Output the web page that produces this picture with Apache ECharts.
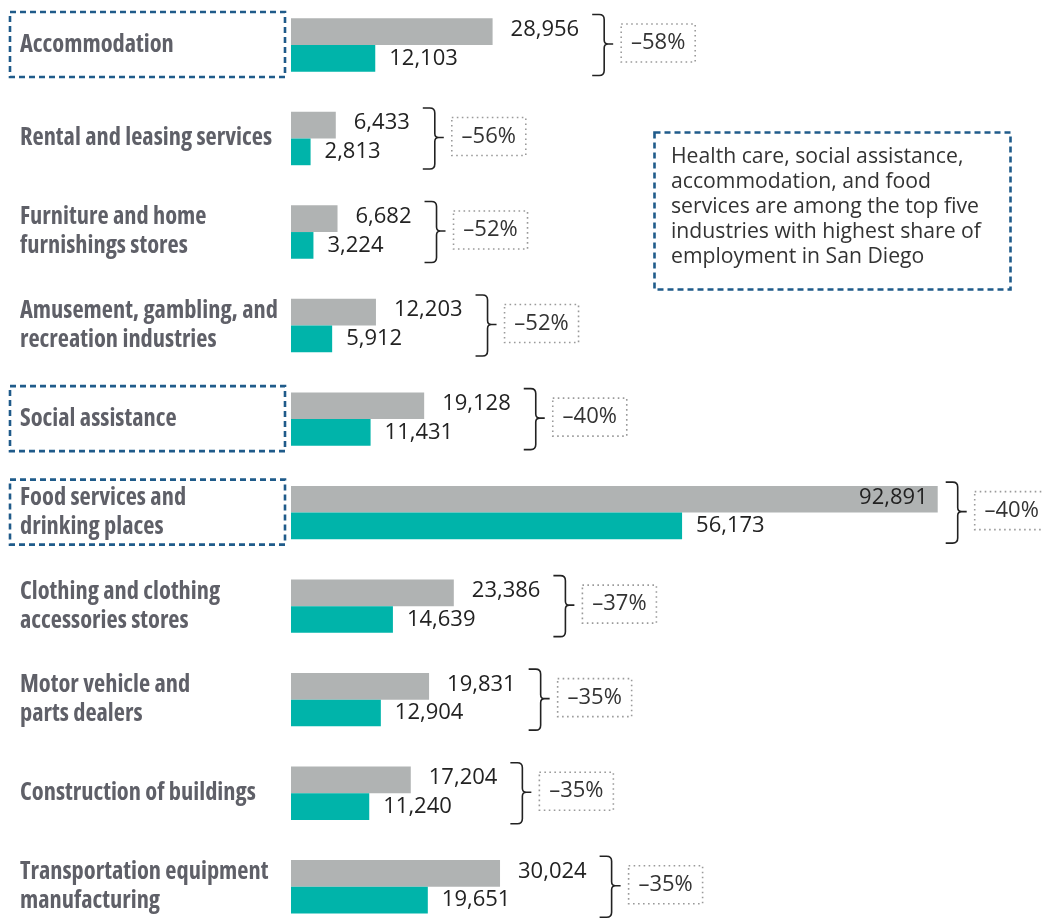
<!DOCTYPE html>
<html><head><meta charset="utf-8">
<script src="https://cdn.jsdelivr.net/npm/echarts@6/dist/echarts.min.js"></script>
<style>html,body{margin:0;padding:0;background:#fff}#c{width:1044px;height:920px}</style>
</head><body><div id="c"></div>
<script>
const categories = ['Accommodation','Rental and leasing services','Furniture and home\nfurnishings stores','Amusement, gambling, and\nrecreation industries','Social assistance','Food services and\ndrinking places','Clothing and clothing\naccessories stores','Motor vehicle and\nparts dealers','Construction of buildings','Transportation equipment\nmanufacturing'];
const before = [28956, 6433, 6682, 12203, 19128, 92891, 23386, 19831, 17204, 30024];
const after = [12103, 2813, 3224, 5912, 11431, 56173, 14639, 12904, 11240, 19651];
const pctChange = [-58, -56, -52, -52, -40, -40, -37, -35, -35, -35];
const highlighted = ['Accommodation', 'Social assistance', 'Food services and\ndrinking places'];
const noteText = 'Health care, social assistance,\naccommodation, and food\nservices are among the top five\nindustries with highest share of\nemployment in San Diego';

const GRAY = '#b0b3b3', TEAL = '#00b4aa', NAVY = '#1f5b8a';
const VALUE_FONT_SIZE = 22, VALUE_FAMILY = '"Open Sans"';
const VALUE_FONT = VALUE_FONT_SIZE + 'px ' + VALUE_FAMILY;
const fmt = v => v.toLocaleString('en-US');
const mctx = document.createElement('canvas').getContext('2d');
function textW(t, font) { mctx.font = font; return mctx.measureText(t).width; }
const maxBefore = Math.max(...before);

const chart = echarts.init(document.getElementById('c'), null, {renderer: 'canvas'});

const valueLabel = {
  show: true, fontFamily: 'Open Sans', fontSize: VALUE_FONT_SIZE, color: '#222',
  formatter: p => fmt(p.value)
};

chart.setOption({
  animation: false,
  backgroundColor: '#fff',
  grid: {left: 291, top: 45, width: 696.2, height: 841.7, containLabel: false},
  xAxis: {type: 'value', min: 0, max: 100000, show: false},
  yAxis: {
    type: 'category', data: categories, inverse: true, boundaryGap: false,
    axisLine: {show: false}, axisTick: {show: false}, splitLine: {show: false},
    axisLabel: {
      align: 'left', margin: 271, color: '#5f6068',
      fontFamily: 'Open Sans', fontWeight: 'bold condensed', fontSize: 24.4, lineHeight: 29
    }
  },
  series: [
    {
      type: 'bar', name: 'Before', barWidth: 26.7, barGap: '0%', clip: false, itemStyle: {color: GRAY},
      label: Object.assign({}, valueLabel, {position: 'right', distance: 18, offset: [0, -2]}),
      data: before.map(v => v === maxBefore
        ? {value: v, label: {position: 'insideRight', distance: 10}}
        : v)
    },
    {
      type: 'bar', name: 'After', barWidth: 26.7, barGap: '0%', clip: false, itemStyle: {color: TEAL},
      label: Object.assign({}, valueLabel, {position: 'right', distance: 14}),
      data: after
    },
    {
      type: 'custom', name: 'braces', clip: false, silent: true,
      encode: {x: 0, y: 1},
      data: before.map((v, i) => [v, i]),
      renderItem(params, api) {
        const i = params.dataIndex;
        const b = before[i], a = after[i];
        const gp = api.coord([b, i]);
        const gEnd = gp[0], cy = gp[1];
        const tEnd = api.coord([a, i])[0];
        const gInside = b === maxBefore;
        const cands = [gEnd + 8, tEnd + 14 + textW(fmt(a), VALUE_FONT) + 13];
        if (!gInside) cands.push(gEnd + 18 + textW(fmt(b), VALUE_FONT) + 13);
        const bx = Math.max(...cands);
        const top = cy - 30.5, bot = cy + 30.5, mid = cy - 1;
        const path = `M${bx} ${top} L${bx+7} ${top} Q${bx+12} ${top} ${bx+12} ${top+5} L${bx+12} ${mid-4} Q${bx+12} ${mid} ${bx+16} ${mid} L${bx+21} ${mid} M${bx+16} ${mid} Q${bx+12} ${mid} ${bx+12} ${mid+4} L${bx+12} ${bot-5} Q${bx+12} ${bot} ${bx+7} ${bot} L${bx} ${bot}`;
        const boxX = bx + 29, boxW = 74, boxH = 38, boxY = cy - 2 - boxH / 2;
        return {
          type: 'group',
          children: [
            {type: 'path', shape: {pathData: path}, style: {fill: 'none', stroke: '#222', lineWidth: 1.6}},
            {type: 'rect', shape: {x: boxX, y: boxY, width: boxW, height: boxH},
             style: {fill: 'none', stroke: '#9a9a9a', lineWidth: 1.6, lineDash: [1.6, 3.4]}},
            {type: 'text', x: boxX + boxW / 2, y: boxY + boxH / 2,
             style: {text: '\u2013' + Math.abs(pctChange[i]) + '%', font: VALUE_FONT, fill: '#333', align: 'center', verticalAlign: 'middle'}}
          ]
        };
      }
    },
    {
      type: 'custom', name: 'highlights', clip: false, silent: true,
      encode: {x: 0, y: 1},
      data: highlighted.map(c => [0, categories.indexOf(c)]),
      renderItem(params, api) {
        const idx = api.value(1);
        const p = api.coord([0, idx]);
        const x0 = 10, x1 = p[0] - 6;
        return {
          type: 'rect', shape: {x: x0, y: p[1] - 33, width: x1 - x0, height: 65},
          style: {fill: 'none', stroke: NAVY, lineWidth: 2.6, lineDash: [6, 4]}
        };
      }
    }
  ],
  graphic: [
    {type: 'rect', left: 652, top: 130, shape: {width: 356, height: 157},
     style: {fill: 'none', stroke: NAVY, lineWidth: 2.6, lineDash: [6, 4]}},
    {type: 'text', left: 671, top: 144,
     style: {text: noteText, font: '21.2px "Open Sans"', lineHeight: 25, fill: '#333'}}
  ]
});
</script>
</body></html>
